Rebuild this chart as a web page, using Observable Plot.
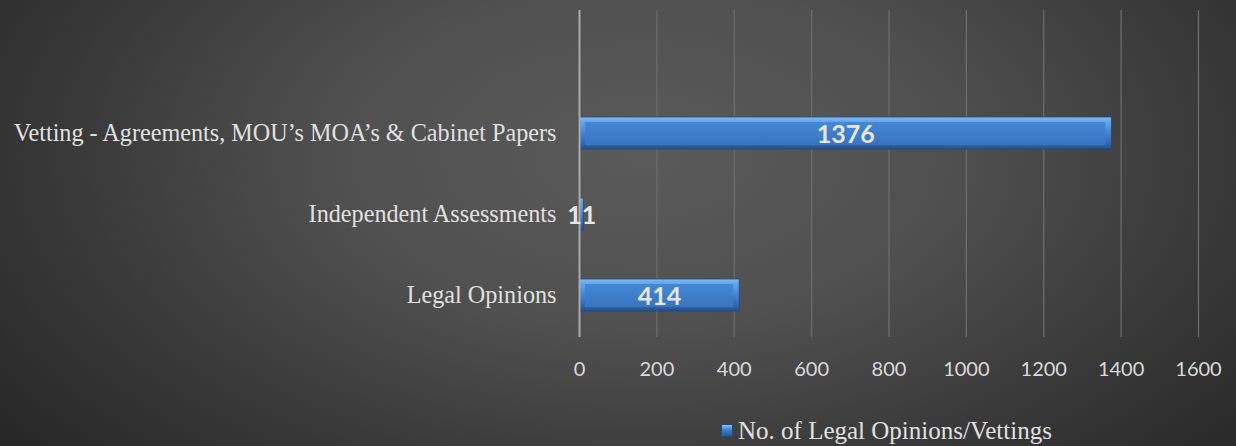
<!DOCTYPE html>
<html>
<head>
<meta charset="utf-8">
<script src="https://cdn.jsdelivr.net/npm/d3@7"></script>
<script src="https://cdn.jsdelivr.net/npm/@observablehq/plot@0.6"></script>
<style>
  html, body { margin: 0; padding: 0; background: #2a2a2a; }
  #wrap {
    width: 1236px; height: 446px; position: relative; overflow: hidden;
    background: radial-gradient(ellipse 70% 110% at 52% 35%, #5a5a5a 0%, #505050 35%, #3a3a3a 65%, #232323 100%);
  }
  #chart { position: absolute; left: 0; top: 0; }
  #legend {
    position: absolute; top: 417px; left: 0; width: 1236px; text-align: left;
    font-family: "Liberation Serif", serif; font-size: 25px; color: #e0e0e0; line-height: 28px;
  }
  #legend .sw {
    display: inline-block; width: 10px; height: 11px; margin-right: 5px; vertical-align: 2px;
    background: linear-gradient(#8cc4f4, #3d7cc9 45%, #2a5a98);
    border: 1px solid #1f4a80;
  }
</style>
</head>
<body>
<div id="wrap">
  <div id="chart"></div>
  <div id="legend"><span style="position:absolute;left:721px;"><span class="sw"></span>No. of Legal Opinions/Vettings</span></div>
</div>
<script>
const categories = ["Vetting - Agreements, MOU’s MOA’s & Cabinet Papers", "Independent Assessments", "Legal Opinions"];
const values = [1376, 11, 414];
const xTicks = [0, 200, 400, 600, 800, 1000, 1200, 1400, 1600];
const seriesName = "No. of Legal Opinions/Vettings";

const data = categories.map((c, i) => ({category: c, value: values[i]}));
const yDomain = [" ", ...categories];

const chart = Plot.plot({
  width: 1236,
  height: 400,
  marginLeft: 579,
  marginRight: 38,
  marginTop: 10,
  marginBottom: 63,
  style: {background: "transparent", overflow: "visible"},
  x: {domain: [0, 1600], ticks: xTicks, label: null},
  y: {domain: yDomain, paddingInner: 0.6, paddingOuter: 0.3, label: null},
  marks: [
    Plot.ruleX(xTicks.filter(t => t > 0), {stroke: "#6c6c6c", strokeWidth: 1.3}),
    Plot.barX(data, {y: "category", x: "value", fill: "url(#edgeGrad)",
      stroke: "#1f4a80", strokeWidth: 0.8,
      style: "filter: drop-shadow(2px 3px 3px rgba(0,0,0,0.55))"}),
    Plot.barX(data.filter(d => d.value > 50), {y: "category", x: "value", fill: "url(#faceGrad)",
      insetTop: 5, insetBottom: 4, insetLeft: 6, insetRight: 6}),
    Plot.ruleX([0], {stroke: "#a9a9a9", strokeWidth: 2}),
    Plot.axisX({ticks: xTicks, tickFormat: d => String(d), tickSize: 0, tickPadding: 24, fontSize: 20, fill: "#d9d9d9",
      fontFamily: "Lato", label: null, anchor: "bottom"}),
    Plot.axisY({tickSize: 0, tickPadding: 23, fontSize: 24.2, fill: "#e0e0e0",
      fontFamily: "Liberation Serif", label: null, anchor: "left"}),
    Plot.text(data, {y: "category", x: d => d.value / 2, text: d => String(d.value),
      fill: "#e6e6e6", fontSize: 25, fontWeight: "bold", fontFamily: "Lato", dy: 1})
  ]
});

d3.select(chart).insert("defs", ":first-child").html(`
  <linearGradient id="edgeGrad" x1="0" y1="0" x2="0" y2="1">
    <stop offset="0" stop-color="#7fbaf2"/>
    <stop offset="0.14" stop-color="#66a6ea"/>
    <stop offset="0.5" stop-color="#4584d2"/>
    <stop offset="0.86" stop-color="#2f64aa"/>
    <stop offset="1" stop-color="#244f8a"/>
  </linearGradient>
  <linearGradient id="faceGrad" x1="0" y1="0" x2="0" y2="1">
    <stop offset="0" stop-color="#4487d6"/>
    <stop offset="1" stop-color="#3a74bf"/>
  </linearGradient>
`);

document.getElementById("chart").appendChild(chart);
</script>
</body>
</html>
